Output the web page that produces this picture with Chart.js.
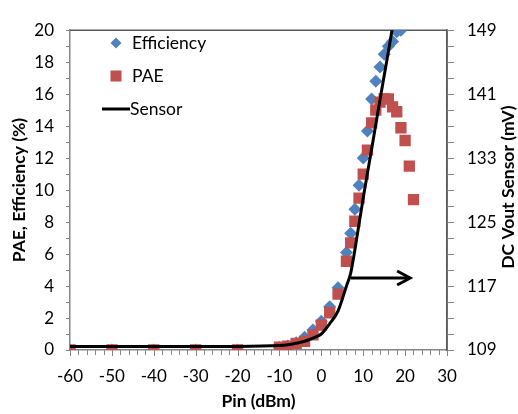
<!DOCTYPE html>
<html>
<head>
<meta charset="utf-8">
<script src="https://cdn.jsdelivr.net/npm/chart.js@4/dist/chart.umd.min.js"></script>
<style>
  html, body { margin: 0; padding: 0; background: #ffffff; }
  #wrap { width: 518px; height: 414px; }
</style>
</head>
<body>
<div id="wrap"><canvas id="chart" width="518" height="414"></canvas></div>
<script>
// Input power sweep (dBm)
const pin = [-60, -50, -40, -30, -20, -10, -8, -6, -4, -2, 0, 2, 4, 6, 7, 8, 9, 10, 11, 12, 13, 14, 15, 16, 17, 18, 19, 20, 21, 22];

// Drain efficiency (%)
const efficiency = [0, 0, 0, 0, 0, 0.15, 0.25, 0.45, 0.8, 1.25, 1.8, 2.7, 3.9, 6.1, 7.3, 8.8, 10.3, 12.0, 13.7, 15.7, 16.8, 17.7, 18.5, 19.0, 19.3, 19.9, 20.0, null, null, null];

// Power added efficiency (%)
const pae = [0, 0, 0, 0, 0, 0.18, 0.24, 0.42, 0.54, 0.95, 1.55, 2.33, 3.5, 5.55, 6.7, 8.05, 9.5, 11.0, 12.5, 14.2, 15.0, 15.5, 15.7, 15.7, 15.2, 14.9, 13.9, 13.1, 11.5, 9.4];

// DC output voltage of the sensor (mV)
const sensor = [109.45, 109.45, 109.45, 109.45, 109.45, 109.55, 109.65, 109.85, 110.1, 110.5, 111.0, 112.3, 113.9, 117.0, 118.6, 121.5, 124.8, 128.0, 131.1, 134.1, 137.2, 140.3, 143.3, 146.3, 149.4, null, null, null, null, null];

// Axis ranges and tick steps
const xRange = { min: -60, max: 30, major: 10, minor: 2 };
const yRange = { min: 0, max: 20, major: 2, minor: 1 };
const y1Range = { min: 109, max: 149, major: 8, minor: 2 };

// Axis titles and legend labels
const xTitle = 'Pin (dBm)';
const yTitle = 'PAE, Efficiency (%)';
const y1Title = 'DC Vout Sensor (mV)';
const seriesNames = ['Efficiency', 'PAE', 'Sensor'];

// Arrow pointing at the sensor axis (data coordinates on x / left y)
const arrowFrom = { x: 7.0, y: 4.5 };
const arrowTo = { x: 21.2, y: 4.5 };

const FONT = 'Lato, "Open Sans", "Liberation Sans", sans-serif';
const BLUE = '#4F81BD';
const RED = '#C0504D';
const AXIS = '#868686';
const FRAME = '#595959';

const toPoints = (vals) => pin.map((p, i) => ({ x: p, y: vals[i] })).filter(d => d.y !== null);

// Minor/major tick marks, frame, arrow, titles and legend
const decorations = {
  id: 'decorations',
  beforeDatasetsDraw(chart) {
    const { ctx, chartArea: a } = chart;
    ctx.save();
    ctx.strokeStyle = FRAME;
    ctx.lineWidth = 1.5;
    ctx.beginPath();
    ctx.moveTo(a.left, a.top);
    ctx.lineTo(a.right, a.top);
    ctx.lineTo(a.right, a.bottom);
    ctx.stroke();
    ctx.restore();
  },
  afterDatasetsDraw(chart) {
    const { ctx, chartArea: a, scales } = chart;
    const sx = scales.x, sy = scales.y, sy1 = scales.y1;
    ctx.save();

    // tick marks
    ctx.strokeStyle = AXIS;
    ctx.lineWidth = 1;
    ctx.beginPath();
    for (let v = xRange.min; v <= xRange.max; v += xRange.minor) {
      const px = Math.round(sx.getPixelForValue(v)) + 0.5;
      const len = (v % xRange.major === 0) ? 6 : 5;
      ctx.moveTo(px, a.bottom);
      ctx.lineTo(px, a.bottom + len);
    }
    for (let v = yRange.min; v <= yRange.max; v += yRange.minor) {
      const py = Math.round(sy.getPixelForValue(v)) + 0.5;
      ctx.moveTo(a.left - 4, py);
      ctx.lineTo(a.left, py);
    }
    for (let v = y1Range.min; v <= y1Range.max; v += y1Range.minor) {
      const py = Math.round(sy1.getPixelForValue(v)) + 0.5;
      ctx.moveTo(a.right, py);
      ctx.lineTo(a.right + 7, py);
    }
    ctx.stroke();

    // arrow toward the right-hand axis
    const ax0 = sx.getPixelForValue(arrowFrom.x), ay0 = sy.getPixelForValue(arrowFrom.y);
    const ax1 = sx.getPixelForValue(arrowTo.x), ay1 = sy.getPixelForValue(arrowTo.y);
    ctx.strokeStyle = '#000000';
    ctx.lineWidth = 3;
    ctx.lineCap = 'butt';
    ctx.lineJoin = 'miter';
    ctx.beginPath();
    ctx.moveTo(ax0, ay0);
    ctx.lineTo(ax1 - 2, ay1);
    ctx.stroke();
    ctx.beginPath();
    ctx.moveTo(ax1 - 13, ay1 - 7);
    ctx.lineTo(ax1, ay1);
    ctx.lineTo(ax1 - 13, ay1 + 7);
    ctx.stroke();

    // axis titles
    ctx.fillStyle = '#000000';
    ctx.font = 'bold 17.5px ' + FONT;
    ctx.textAlign = 'center';
    ctx.textBaseline = 'middle';
    ctx.fillText(xTitle, (a.left + a.right) / 2, 401);
    ctx.save();
    ctx.translate(19, (a.top + a.bottom) / 2);
    ctx.rotate(-Math.PI / 2);
    ctx.fillText(yTitle, 0, 0);
    ctx.restore();
    ctx.save();
    ctx.translate(508, (a.top + a.bottom) / 2 - 3);
    ctx.rotate(-Math.PI / 2);
    ctx.fillText(y1Title, 0, 0);
    ctx.restore();

    // legend
    const ds = chart.data.datasets;
    ctx.font = '17.5px ' + FONT;
    ctx.textAlign = 'left';
    ctx.textBaseline = 'middle';
    const rows = [43, 76, 109];
    // diamond
    ctx.fillStyle = ds[0].backgroundColor;
    ctx.beginPath();
    ctx.moveTo(116, rows[0] - 5.5);
    ctx.lineTo(121.5, rows[0]);
    ctx.lineTo(116, rows[0] + 5.5);
    ctx.lineTo(110.5, rows[0]);
    ctx.closePath();
    ctx.fill();
    // square
    ctx.fillStyle = ds[1].backgroundColor;
    ctx.fillRect(110.5, rows[1] - 5.5, 11, 11);
    // line
    ctx.strokeStyle = ds[2].borderColor;
    ctx.lineWidth = 3;
    ctx.beginPath();
    ctx.moveTo(102, rows[2]);
    ctx.lineTo(130, rows[2]);
    ctx.stroke();
    ctx.fillStyle = '#000000';
    ctx.fillText(seriesNames[0], 132, rows[0]);
    ctx.fillText(seriesNames[1], 132, rows[1]);
    ctx.fillText(seriesNames[2], 130, rows[2]);

    ctx.restore();
  }
};

const tickFont = { family: FONT, size: 17 };

new Chart(document.getElementById('chart'), {
  type: 'scatter',
  data: {
    datasets: [
      {
        label: seriesNames[0],
        data: toPoints(efficiency),
        yAxisID: 'y',
        pointStyle: 'rectRot',
        pointRadius: 6.5,
        backgroundColor: BLUE,
        borderColor: BLUE,
        borderWidth: 0,
        showLine: false,
        order: 3
      },
      {
        label: seriesNames[1],
        data: toPoints(pae),
        yAxisID: 'y',
        pointStyle: 'rect',
        pointRadius: 8,
        backgroundColor: RED,
        borderColor: RED,
        borderWidth: 0,
        showLine: false,
        order: 2
      },
      {
        label: seriesNames[2],
        data: toPoints(sensor),
        yAxisID: 'y1',
        showLine: true,
        pointRadius: 0,
        borderColor: '#000000',
        backgroundColor: '#000000',
        borderWidth: 3,
        cubicInterpolationMode: 'monotone',
        order: 1
      }
    ]
  },
  options: {
    responsive: false,
    animation: false,
    events: [],
    layout: { padding: { top: 15, left: 0, right: 0, bottom: 0 } },
    plugins: {
      legend: { display: false },
      tooltip: { enabled: false },
      title: { display: false }
    },
    scales: {
      x: {
        type: 'linear',
        position: 'bottom',
        min: xRange.min,
        max: xRange.max,
        afterFit: (s) => { s.height = 64; },
        ticks: {
          stepSize: xRange.major,
          padding: 16,
          color: '#000000',
          font: tickFont,
          maxRotation: 0
        },
        grid: { display: true, drawOnChartArea: false, drawTicks: false },
        border: { display: true, color: AXIS, width: 1.5 }
      },
      y: {
        type: 'linear',
        position: 'left',
        min: yRange.min,
        max: yRange.max,
        afterFit: (s) => { s.width = 70; },
        ticks: {
          stepSize: yRange.major,
          padding: 16,
          color: '#000000',
          font: tickFont
        },
        grid: { display: true, drawOnChartArea: false, drawTicks: false },
        border: { display: true, color: AXIS, width: 1.5 }
      },
      y1: {
        type: 'linear',
        position: 'right',
        min: y1Range.min,
        max: y1Range.max,
        afterFit: (s) => { s.width = 71; },
        ticks: {
          stepSize: y1Range.major,
          padding: 20,
          color: '#000000',
          font: tickFont
        },
        grid: { display: true, drawOnChartArea: false, drawTicks: false },
        border: { display: true, color: FRAME, width: 1.5 }
      }
    }
  },
  plugins: [decorations]
});
</script>
</body>
</html>
